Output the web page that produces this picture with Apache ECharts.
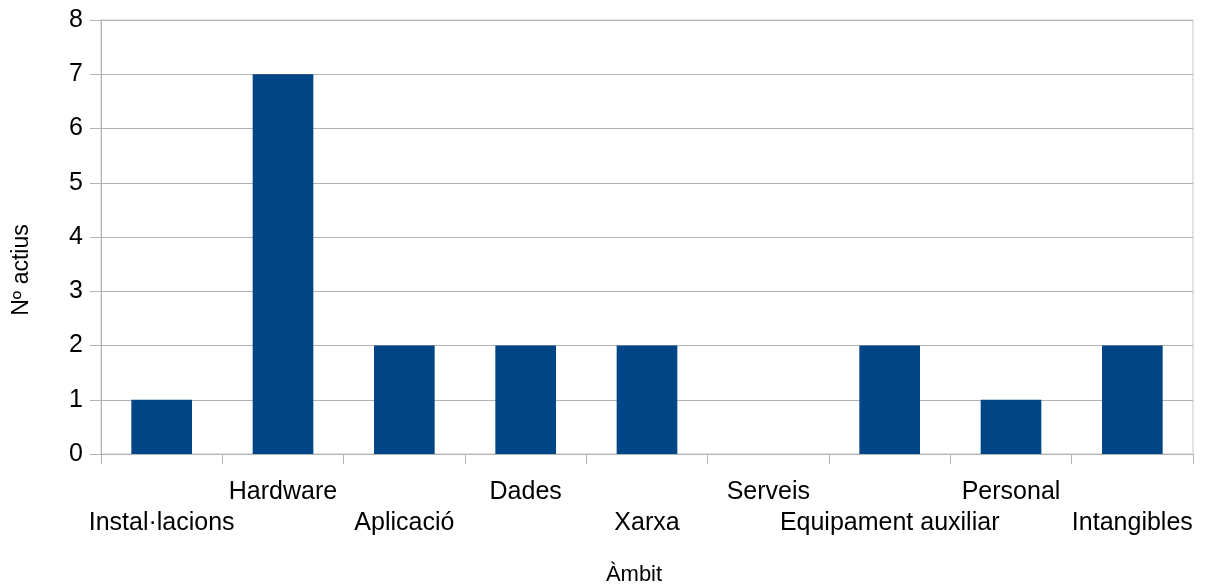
<!DOCTYPE html>
<html>
<head>
<meta charset="utf-8">
<script src="https://cdn.jsdelivr.net/npm/echarts@6/dist/echarts.min.js"></script>
<style>
  html, body { margin: 0; padding: 0; background: #ffffff; }
  #chart { width: 1205px; height: 588px; }
</style>
</head>
<body>
<div id="chart"></div>
<script>
// Asset inventory: number of assets per scope
const categories = ['Instal·lacions', 'Hardware', 'Aplicació', 'Dades', 'Xarxa', 'Serveis', 'Equipament auxiliar', 'Personal', 'Intangibles'];
const assetCounts = [1, 7, 2, 2, 2, 0, 2, 1, 2];
const yTicks = [0, 1, 2, 3, 4, 5, 6, 7, 8];

const FONT = '"Liberation Sans", Arial, sans-serif';
const chart = echarts.init(document.getElementById('chart'), null, { renderer: 'canvas' });

chart.setOption({
  animation: false,
  backgroundColor: '#ffffff',
  grid: {
    left: 101, right: 12, top: 20, bottom: 134,
    outerBoundsMode: 'none',
    containLabel: false,
    show: true, borderColor: '#c8c8c8', borderWidth: 1, backgroundColor: 'transparent'
  },
  xAxis: {
    type: 'category',
    data: categories,
    name: 'Àmbit',
    nameLocation: 'middle',
    nameGap: 110,
    nameTextStyle: { fontFamily: FONT, fontSize: 22, color: '#000', padding: [0, 26, 0, 0] },
    axisLine: { show: true, lineStyle: { color: '#b3b3b3', width: 1 } },
    axisTick: { show: true, length: 10, alignWithLabel: false, lineStyle: { color: '#b3b3b3' } },
    axisLabel: {
      interval: 0,
      margin: 23,
      fontFamily: FONT,
      fontSize: 25,
      lineHeight: 31,
      color: '#000',
      // alternate labels between two rows so long names don't collide
      formatter: function (value, index) {
        return index % 2 === 0 ? '\n' + value : value;
      }
    },
    splitLine: { show: false }
  },
  yAxis: {
    type: 'value',
    min: yTicks[0],
    max: yTicks[yTicks.length - 1],
    interval: 1,
    name: 'Nº actius',
    nameLocation: 'middle',
    nameGap: 68,
    nameRotate: 90,
    nameTextStyle: { fontFamily: FONT, fontSize: 23, color: '#000', padding: [0, 66, 0, 0] },
    axisLine: { show: true, lineStyle: { color: '#b3b3b3', width: 1 } },
    axisTick: { show: true, inside: false, length: 11, lineStyle: { color: '#b3b3b3' } },
    axisLabel: { margin: 18, fontFamily: FONT, fontSize: 25, color: '#000' },
    splitLine: { show: true, lineStyle: { color: '#b3b3b3', width: 1 } }
  },
  series: [{
    type: 'bar',
    data: assetCounts,
    barWidth: '50%',
    itemStyle: { color: '#004586' }
  }]
});
</script>
</body>
</html>
